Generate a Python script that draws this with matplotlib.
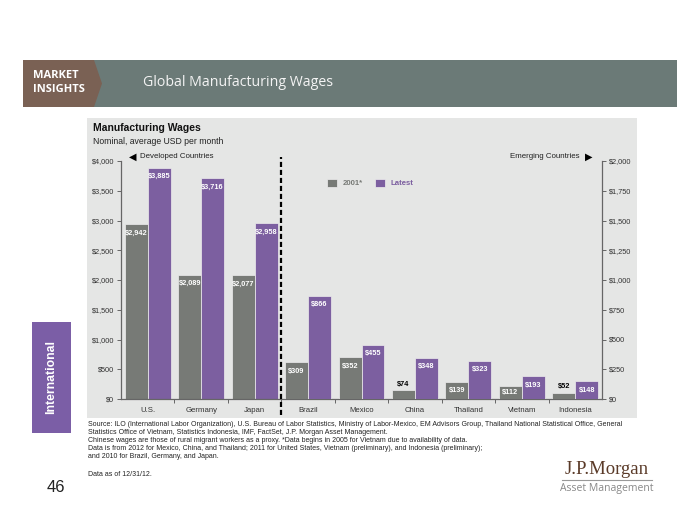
import matplotlib
matplotlib.use("Agg")
import matplotlib.pyplot as plt
import numpy as np
from matplotlib.patches import Rectangle, Polygon
from matplotlib.lines import Line2D
from matplotlib.ticker import FuncFormatter, MultipleLocator, FixedLocator

# data
developed = ["U.S.", "Germany", "Japan"]
dev_2001 = [2942, 2089, 2077]
dev_latest = [3885, 3716, 2958]

emerging = ["Brazil", "Mexico", "China", "Thailand", "Vietnam", "Indonesia"]
em_2001 = [309, 352, 74, 139, 112, 52]
em_latest = [866, 455, 348, 323, 193, 148]

series_names = ["2001*", "Latest"]

footnotes = [
    "Source: ILO (International Labor Organization), U.S. Bureau of Labor Statistics, Ministry of Labor-Mexico, EM Advisors Group, Thailand National Statistical Office, General",
    "Statistics Office of Vietnam, Statistics Indonesia, IMF, FactSet, J.P. Morgan Asset Management.",
    "Chinese wages are those of rural migrant workers as a proxy. *Data begins in 2005 for Vietnam due to availability of data.",
    "Data is from 2012 for Mexico, China, and Thailand; 2011 for United States, Vietnam (preliminary), and Indonesia (preliminary);",
    "and 2010 for Brazil, Germany, and Japan.",
]

GRAY = "#777a76"
PURPLE = "#7c5fa0"
PANEL = "#e5e6e5"
AXC = "#666666"

plt.rcParams["font.family"] = ["Liberation Sans", "DejaVu Sans"]

W, H = 700, 525
fig = plt.figure(figsize=(7, 5.25), dpi=100)


def fx(x):
    return x / W


def fy(y):
    return 1 - y / H


def box(x0, y0, x1, y1, **kw):
    fig.add_artist(Rectangle((fx(x0), fy(y1)), fx(x1) - fx(x0), fy(y0) - fy(y1),
                             transform=fig.transFigure, **kw))


# header band
box(23, 60, 677, 107, facecolor="#6b7a77", edgecolor="none", zorder=0)
fig.add_artist(Polygon([(fx(23), fy(60)), (fx(94), fy(60)), (fx(102), fy(83.5)),
                        (fx(94), fy(107)), (fx(23), fy(107))],
                       transform=fig.transFigure, facecolor="#7a6154", edgecolor="none", zorder=1))
fig.text(fx(33), fy(76), "MARKET", color="white", fontsize=8, fontweight="bold",
         family=["Open Sans", "DejaVu Sans"], va="center")
fig.text(fx(33), fy(89), "INSIGHTS", color="white", fontsize=8, fontweight="bold",
         family=["Open Sans", "DejaVu Sans"], va="center")
fig.text(fx(143), fy(82), "Global Manufacturing Wages", color="#f4f4f4", fontsize=10.2,
         family=["Open Sans", "DejaVu Sans"], va="center")

# chart panel
box(87, 118, 637, 418, facecolor=PANEL, edgecolor="none", zorder=0)

# side tab and page number
box(32, 322, 71, 433, facecolor="#7b5ea6", edgecolor="none", zorder=0)
fig.text(fx(51.5), fy(377), "International", color="white", fontsize=8.8,
         fontweight="bold", rotation=90, ha="center", va="center")
fig.text(fx(56), fy(487), "46", fontsize=12, ha="center", va="center", color="#222222")

# axes
ax = fig.add_axes([fx(121), fy(399), fx(602) - fx(121), fy(161) - fy(399)])
ax.set_facecolor("none")
ax2 = ax.twinx()

names = developed + emerging
x = np.arange(len(names))
w = 0.43
xd = x[:len(developed)]
xe = x[len(developed):]

b1 = ax.bar(xd - w / 2, dev_2001, w, color=GRAY, edgecolor="#eeeeee", linewidth=0.5)
b2 = ax.bar(xd + w / 2, dev_latest, w, color=PURPLE, edgecolor="#eeeeee", linewidth=0.5)
b3 = ax2.bar(xe - w / 2, em_2001, w, color=GRAY, edgecolor="#eeeeee", linewidth=0.5)
b4 = ax2.bar(xe + w / 2, em_latest, w, color=PURPLE, edgecolor="#eeeeee", linewidth=0.5)

ax.set_ylim(0, 4000)
ax2.set_ylim(0, 2000)
ax.set_xlim(-0.5, len(names) - 0.5)


def money(v, pos=None):
    return "${:,.0f}".format(v)


ax.yaxis.set_major_locator(MultipleLocator(500))
ax2.yaxis.set_major_locator(MultipleLocator(250))
ax.yaxis.set_major_formatter(FuncFormatter(money))
ax2.yaxis.set_major_formatter(FuncFormatter(money))

ax.set_xticks(x)
ax.set_xticklabels(names)
ax.xaxis.set_minor_locator(FixedLocator(np.arange(0.5, len(names) - 1, 1)))
ax.tick_params(axis="x", which="major", length=0, labelsize=5.6, pad=6, colors="#333333")
ax.tick_params(axis="x", which="minor", length=3, direction="out", color=AXC, width=0.7)
ax.tick_params(axis="y", length=3, width=0.7, color=AXC, labelsize=5.3, labelcolor="#333333", pad=2)
ax2.tick_params(axis="y", length=3, width=0.7, color=AXC, labelsize=5.3, labelcolor="#333333", pad=2)

for a in (ax, ax2):
    a.spines["top"].set_visible(False)
    for s in ("left", "right", "bottom"):
        a.spines[s].set_color(AXC)
        a.spines[s].set_linewidth(0.9)
ax.spines["right"].set_visible(False)
ax2.spines["left"].set_visible(False)
ax2.spines["bottom"].set_visible(False)


def label_bars(a, bars, ymax):
    for r in bars:
        v = r.get_height()
        xc = r.get_x() + r.get_width() / 2
        if v / ymax < 0.05:
            a.annotate(money(v), (xc, v), xytext=(0, 6), textcoords="offset pixels",
                       ha="center", va="center", fontsize=5.3, fontweight="bold", color="black")
        else:
            off = min(9, v / ymax * 238 / 2)
            a.annotate(money(v), (xc, v), xytext=(0, -off), textcoords="offset pixels",
                       ha="center", va="center", fontsize=5.3, fontweight="bold", color="white")


label_bars(ax, b1, 4000)
label_bars(ax, b2, 4000)
label_bars(ax2, b3, 2000)
label_bars(ax2, b4, 2000)

# divider between developed and emerging
ax.axvline(len(developed) - 0.5, ymin=-0.067, ymax=1.017, clip_on=False, color="black",
           linewidth=1.6, dashes=(2.3, 1.3), zorder=5)

# legend
leg = ax.legend([b1, b2], series_names, loc="center left",
                bbox_to_anchor=(fx(327), fy(183)), bbox_transform=fig.transFigure,
                ncol=2, frameon=False, fontsize=5.6, handlelength=1.3, handleheight=1.3,
                handletextpad=0.7, columnspacing=1.6, borderaxespad=0, borderpad=0)
for t, c in zip(leg.get_texts(), [GRAY, PURPLE]):
    t.set_color(c)
    t.set_fontweight("bold")

# titles
fig.text(fx(93), fy(128), "Manufacturing Wages", fontsize=7.5, fontweight="bold", va="center", color="#111111")
fig.text(fx(93), fy(141), "Nominal, average USD per month", fontsize=6.2, va="center", color="#222222")
fig.text(fx(133), fy(156.5), "\u25C0", family="DejaVu Sans", fontsize=7, ha="center", va="center")
fig.text(fx(140), fy(156.5), "Developed Countries", fontsize=5.7, va="center", color="#222222")
fig.text(fx(589), fy(156.5), "\u25B6", family="DejaVu Sans", fontsize=7, ha="center", va="center")
fig.text(fx(579), fy(156.5), "Emerging Countries", fontsize=5.7, ha="right", va="center", color="#222222")

# footnotes
for i, line in enumerate(footnotes):
    fig.text(fx(88), fy(425 + 8 * i), line, fontsize=5, va="center", color="#222222")
fig.text(fx(88), fy(474), "Data as of 12/31/12.", fontsize=5, va="center", color="#222222")

# logo
fig.text(fx(607), fy(470), "J.P.Morgan", family=["Liberation Serif", "DejaVu Serif"],
         fontsize=13.5, ha="center", va="center", color="#5a3a28")
fig.add_artist(Line2D([fx(562), fx(652)], [fy(480), fy(480)], transform=fig.transFigure,
                      color="#999999", linewidth=0.8))
fig.text(fx(607), fy(488), "Asset Management", fontsize=7.5, ha="center", va="center",
         color="#888888", family=["Open Sans", "DejaVu Sans"])

fig.savefig("out.png", dpi=100)
